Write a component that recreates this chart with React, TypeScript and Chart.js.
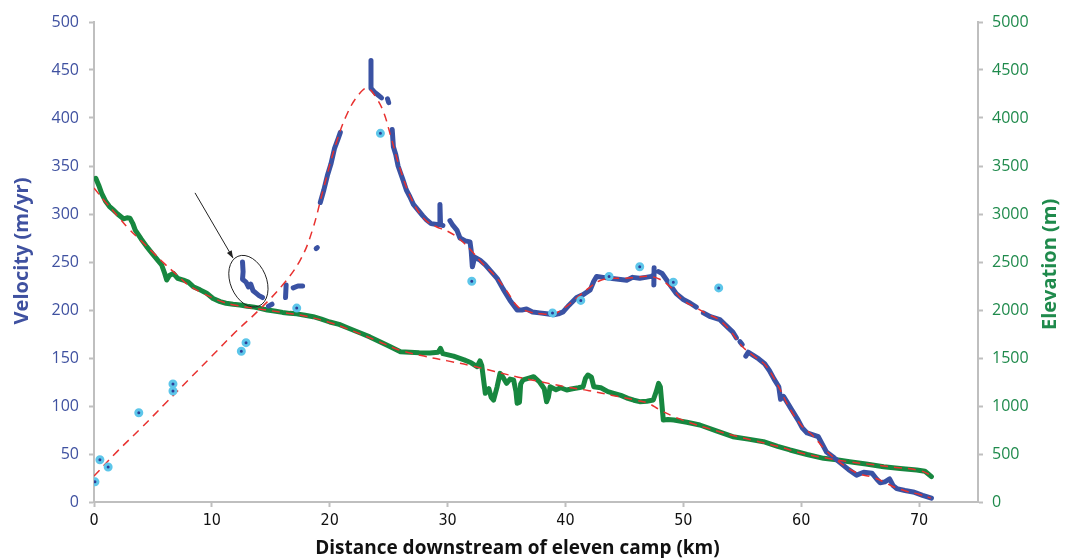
import React, { useEffect, useRef } from "react";
import { Chart, registerables } from "chart.js";

Chart.register(...registerables);

// ---- Data ----
// Velocity observations (blue line); null breaks the line into segments
const velocityKm = [
  12.6, 12.65, 12.6, 12.9, 13.1, 13.3, 13.5, 13.8, 14.0, 14.3, 14.4,
  14.8, 15.1, 15.2,
  16.25, 16.3, 16.35,
  16.9, 17.3, 17.7, 17.8,
  18.85, 18.95, 19.0,
  19.2, 19.5, 19.8, 20.1, 20.4, 20.7, 20.9, 21.0,
  23.5, 23.5, 23.8, 24.1, 24.4, 24.5,
  24.9, 25.0, 25.05,
  25.3, 25.4, 25.6, 25.8, 26.0, 26.2, 26.5, 26.8, 27.1, 27.5, 27.9, 28.2, 28.6, 29.1, 29.3, 29.35, 29.4, 29.6, 29.7,
  30.2, 30.4, 30.8, 31.05, 31.5, 31.9, 32.0, 32.1, 32.3, 32.75, 33.2, 33.7, 34.2, 34.7, 35.3, 35.9, 36.3, 36.7, 37.2, 37.8, 38.4, 39.0, 39.4, 39.8, 40.3, 40.95, 41.5, 42.1, 42.4, 42.65, 43.2, 43.8, 44.5, 45.2, 45.7, 46.3, 46.8, 47.3, 47.4, 47.42,
  47.5, 47.52, 47.6,
  47.9, 48.2, 48.6, 49.0, 49.4, 50.0, 50.6, 51.1, 51.2,
  51.7, 52.3, 53.1, 53.6, 54.2, 54.5, 54.6,
  54.8, 55.0, 55.1,
  55.3, 55.5, 55.9, 56.4, 56.9, 57.3, 57.7, 58.1, 58.25, 58.5, 58.8, 59.2, 59.75, 60.1, 60.5, 61.0, 61.45, 61.8, 62.15, 62.8, 63.4, 64.0, 64.7, 65.3, 66.0, 66.4, 66.7, 67.1, 67.5, 67.8, 68.1, 68.8, 69.5, 70.3, 71.05,
];
const velocityValues: (number | null)[] = [
  250, 240, 232, 229, 224, 227, 220, 217, 215, 213, null,
  204, 206, null,
  213, 226, null,
  223, 225, 225, null,
  264, 265, null,
  312, 325, 340, 352, 368, 378, 385, null,
  460, 431, 427, 424, 421, null,
  420, 416, null,
  388, 370, 362, 350, 343, 336, 325, 318, 310, 304, 298, 294, 290, 289, 289, 310, 289, 288, null,
  293, 289, 283, 275, 272, 271, 262, 245, 255, 252, 247, 240, 233, 222, 210, 200, 200, 201, 198, 197, 196, 195, 196, 198, 205, 213, 216, 221, 230, 235, 234, 233, 232, 231, 234, 233, 234, 235, 236, null,
  226, 244, null,
  240, 238, 231, 224, 217, 211, 207, 203, null,
  197, 193, 190, 184, 177, 171, null,
  167, 164, null,
  152, 156, 153, 149, 144, 137, 128, 120, 107, 110, 104, 96, 85, 77, 72, 70, 68, 60, 52, 46, 40, 34, 28, 31, 30, 24, 20, 21, 24, 17, 14, 12, 10.5, 7, 4,
];

// Fitted velocity curve (red dashed)
const velocityFitKm = [0, 2, 4, 6, 8, 10, 12, 14, 16, 17.5, 18.5, 19.5, 20.5, 21.5, 22.5, 23.2, 24, 24.6, 25.2, 26, 27, 28, 29, 30, 31, 32, 33, 34, 35, 36, 37, 38, 39, 40, 41, 42, 43, 44, 45, 46, 47, 48, 49, 50, 51, 52, 53, 54, 55, 56, 57, 58, 59, 60, 61, 62, 63, 64, 65, 66, 67, 68, 69, 70, 71];
const velocityFitValues = [27, 53, 77, 102, 127, 152, 177, 200, 226, 252, 282, 328, 372, 405, 425, 431, 420, 405, 380, 346, 314, 295, 287, 282, 274, 262, 248, 236, 220, 203, 198, 196, 196, 203, 213, 223, 231, 233, 233, 234, 235, 232, 223, 210, 203, 196, 190, 178, 162, 152, 142, 122, 98, 80, 69, 55, 44, 35, 29, 26, 21, 15, 11, 8, 4];

// Elevation profile (green line)
const elevationKm = [
  0.15, 0.4, 0.65, 1.0, 1.3, 1.64, 2.0, 2.5, 2.8, 3.05, 3.3, 3.5, 4.0, 4.47, 5.0, 5.4, 5.74, 6.0, 6.17, 6.4, 6.73, 7.1, 7.58, 8.0, 8.42, 9.0, 9.56, 10.1, 10.7, 11.2, 11.8, 12.4, 13.0, 13.6, 14.1, 14.7, 15.3, 16.0, 16.6, 17.2, 17.9, 18.6, 19.3, 20.0, 20.8, 21.6, 22.6, 23.4, 24.3, 25.1, 26.0, 26.8, 27.6, 28.5, 29.2, 29.4, 29.6, 30.5, 31.4, 32.0, 32.5, 32.75, 32.9, 33.2, 33.5, 33.7, 33.9, 34.2, 34.45, 34.7, 35.0, 35.3, 35.6, 35.8, 35.9, 36.1, 36.2, 36.4, 36.9, 37.3, 37.8, 38.2, 38.4, 38.55, 38.7, 39.2, 39.6, 40.1, 40.6, 41.1, 41.5, 41.7, 41.9, 42.2, 42.4, 43.0, 43.6, 44.1, 44.7, 45.3, 45.8, 46.3, 46.9, 47.45, 47.7, 47.9, 48.05, 48.3, 48.7, 49.2, 50.3, 51.4, 52.8, 54.2, 55.5, 56.8, 58.0, 59.05, 60.5, 61.9, 63.0, 64.1, 65.5, 67.0, 68.4, 69.8, 70.5, 71.05,
];
const elevationValues = [
  3372, 3300, 3215, 3130, 3080, 3042, 3000, 2950, 2960, 2955, 2900, 2833, 2740, 2660, 2580, 2520, 2469, 2380, 2312, 2360, 2382, 2330, 2312, 2290, 2243, 2210, 2174, 2120, 2087, 2070, 2060, 2052, 2040, 2030, 2017, 2000, 1990, 1975, 1965, 1960, 1945, 1930, 1905, 1875, 1850, 1810, 1760, 1720, 1667, 1620, 1566, 1560, 1555, 1552, 1560, 1600, 1545, 1520, 1480, 1450, 1410, 1470, 1420, 1132, 1180, 1090, 1062, 1200, 1340, 1300, 1236, 1280, 1271, 1150, 1028, 1040, 1230, 1271, 1290, 1305, 1250, 1180, 1045, 1090, 1201, 1170, 1190, 1167, 1180, 1190, 1201, 1290, 1323, 1300, 1201, 1190, 1150, 1132, 1110, 1080, 1060, 1045, 1050, 1062, 1150, 1236, 1200, 854, 860, 854, 830, 802, 740, 680, 655, 628, 580, 542, 495, 455, 440, 420, 395, 368, 350, 333, 320, 264,
];

// Fitted elevation curve (red dashed)
const elevationFitKm = [0, 1, 2, 3, 4, 5, 6, 7, 8, 9, 10, 11, 12, 14, 16, 18, 20, 22, 24, 26, 28, 30, 32, 34, 36, 38, 40, 42, 44, 46, 47, 48, 49, 50, 52, 54, 56, 58, 60, 62, 64, 66, 68, 70, 71];
const elevationFitValues = [3270, 3120, 2980, 2840, 2720, 2600, 2480, 2370, 2260, 2190, 2130, 2080, 2050, 2010, 1975, 1935, 1870, 1780, 1680, 1580, 1520, 1470, 1420, 1360, 1300, 1250, 1200, 1160, 1110, 1060, 1030, 960, 900, 850, 770, 700, 640, 580, 510, 460, 420, 390, 360, 330, 280];

// Point velocity measurements (cyan dots)
const pointKm = [0.08, 0.5, 1.2, 3.8, 6.7, 6.7, 12.5, 12.9, 17.2, 24.3, 32.05, 38.9, 41.3, 43.7, 46.3, 49.15, 53.0];
const pointVelocity = [21, 44, 36.5, 93, 123, 115.6, 157, 166, 202, 384, 230, 197, 210, 235, 245, 229, 223];

// Axis ticks and titles
const xTickStep = 10;
const velocityTickStep = 50;
const elevationTickStep = 500;
const xTitle = "Distance downstream of eleven camp (km)";
const velocityTitle = "Velocity (m/yr)";
const elevationTitle = "Elevation (m)";

// Annotation (ellipse around the highlighted segment, arrow pointing to it) in data units
const ellipseCenter = { km: 13.1, v: 230 };
const arrowFrom = { km: 8.57, v: 322 };
const arrowTo = { km: 11.8, v: 254 };

const BLUE = "#3A52A3";
const GREEN = "#17873F";
const RED = "#E8312F";
const BLUE_TEXT = "#3F51A0";
const GREEN_TEXT = "#1F8A4C";
const AXIS_GREY = "#BFBFBF";
const FONT = "'Open Sans', 'Noto Sans', sans-serif";
const NARROW = "'Liberation Sans Narrow', 'DejaVu Sans Condensed', 'Roboto Condensed', 'Open Sans', sans-serif";

const zip = (xs: number[], ys: (number | null)[]) => xs.map((x, i) => ({ x, y: ys[i] }));

const annotationPlugin = {
  id: "annotations",
  afterDatasetsDraw(chart: any) {
    const { ctx, scales } = chart;
    const x = scales.x;
    const y = scales.y;
    ctx.save();
    const cx = x.getPixelForValue(ellipseCenter.km);
    const cy = y.getPixelForValue(ellipseCenter.v);
    ctx.strokeStyle = "#222";
    ctx.lineWidth = 1;
    ctx.beginPath();
    ctx.ellipse(cx, cy, 18, 27, -0.4, 0, Math.PI * 2);
    ctx.stroke();
    const x1 = x.getPixelForValue(arrowFrom.km);
    const y1 = y.getPixelForValue(arrowFrom.v);
    const x2 = x.getPixelForValue(arrowTo.km);
    const y2 = y.getPixelForValue(arrowTo.v);
    ctx.beginPath();
    ctx.moveTo(x1, y1);
    ctx.lineTo(x2, y2);
    ctx.stroke();
    const ang = Math.atan2(y2 - y1, x2 - x1);
    const len = 8;
    ctx.fillStyle = "#222";
    ctx.beginPath();
    ctx.moveTo(x2, y2);
    ctx.lineTo(x2 - len * Math.cos(ang - 0.35), y2 - len * Math.sin(ang - 0.35));
    ctx.lineTo(x2 - len * Math.cos(ang + 0.35), y2 - len * Math.sin(ang + 0.35));
    ctx.closePath();
    ctx.fill();
    ctx.restore();
  },
};

// Axis titles (Excel-style: both vertical titles read bottom-to-top)
const titlePlugin = {
  id: "axisTitles",
  afterDraw(chart: any) {
    const { ctx, chartArea } = chart;
    ctx.save();
    ctx.textAlign = "center";
    ctx.textBaseline = "middle";
    ctx.font = `bold 20px ${FONT}`;
    ctx.fillStyle = BLUE_TEXT;
    ctx.translate(22, chartArea.top + (chartArea.bottom - chartArea.top) * 0.477);
    ctx.rotate(-Math.PI / 2);
    ctx.fillText(velocityTitle, 0, 0);
    ctx.restore();

    ctx.save();
    ctx.textAlign = "center";
    ctx.textBaseline = "middle";
    ctx.font = `bold 20px ${FONT}`;
    ctx.fillStyle = GREEN_TEXT;
    ctx.translate(chart.width - 15, chartArea.top + (chartArea.bottom - chartArea.top) * 0.505);
    ctx.rotate(-Math.PI / 2);
    ctx.fillText(elevationTitle, 0, 0);
    ctx.restore();

    ctx.save();
    ctx.textAlign = "center";
    ctx.textBaseline = "middle";
    ctx.font = `bold 19px ${FONT}`;
    ctx.fillStyle = "#111";
    ctx.fillText(xTitle, chartArea.left + (chartArea.right - chartArea.left) * 0.479, chart.height - 9);
    ctx.restore();
  },
};

export default function App() {
  const canvasRef = useRef<HTMLCanvasElement | null>(null);

  useEffect(() => {
    document.body.style.margin = "0";
    const canvas = canvasRef.current;
    if (!canvas) return;
    const chart = new Chart(canvas, {
      type: "line",
      data: {
        datasets: [
          {
            label: "Point velocities",
            data: zip(pointKm, pointVelocity),
            yAxisID: "y",
            showLine: false,
            pointRadius: 3,
            pointBorderWidth: 3,
            pointBackgroundColor: "#2E3F96",
            pointBorderColor: "#5DC6EA",
            order: 0,
          },
          {
            label: "Velocity fit",
            data: zip(velocityFitKm, velocityFitValues),
            yAxisID: "y",
            borderColor: RED,
            borderWidth: 1.5,
            borderDash: [8, 6],
            pointRadius: 0,
            tension: 0.4,
            order: 1,
          },
          {
            label: "Elevation fit",
            data: zip(elevationFitKm, elevationFitValues),
            yAxisID: "y2",
            borderColor: RED,
            borderWidth: 1.5,
            borderDash: [8, 6],
            pointRadius: 0,
            tension: 0.4,
            order: 2,
          },
          {
            label: "Velocity",
            data: zip(velocityKm, velocityValues),
            yAxisID: "y",
            borderColor: BLUE,
            borderWidth: 5,
            pointRadius: 0,
            spanGaps: false,
            borderCapStyle: "round",
            borderJoinStyle: "round",
            order: 3,
          },
          {
            label: "Elevation",
            data: zip(elevationKm, elevationValues),
            yAxisID: "y2",
            borderColor: GREEN,
            borderWidth: 5,
            pointRadius: 0,
            borderCapStyle: "round",
            borderJoinStyle: "round",
            order: 4,
          },
        ] as any,
      },
      options: {
        animation: false,
        responsive: false,
        maintainAspectRatio: false,
        layout: { padding: { top: 22, left: 0, right: 0, bottom: 0 } },
        plugins: {
          legend: { display: false },
          tooltip: { enabled: false },
        },
        scales: {
          x: {
            type: "linear",
            min: 0,
            max: 75,
            ticks: {
              stepSize: xTickStep,
              includeBounds: false,
              color: "#111",
              padding: 4,
              font: { family: NARROW, size: 16 },
              callback: (v: any) => String(v),
            },
            grid: { drawOnChartArea: false, drawTicks: true, tickLength: 5, tickColor: AXIS_GREY, tickWidth: 2 },
            border: { display: true, color: AXIS_GREY, width: 2 },
            title: { display: false },
            afterFit(scale: any) {
              scale.height = 56;
            },
          },
          y: {
            type: "linear",
            position: "left",
            min: 0,
            max: 500,
            ticks: {
              stepSize: velocityTickStep,
              color: BLUE_TEXT,
              padding: 10,
              font: { family: FONT, size: 16 },
              callback: (v: any) => String(v),
            },
            grid: { drawOnChartArea: false, drawTicks: true, tickLength: 5, tickColor: AXIS_GREY, tickWidth: 2 },
            border: { display: true, color: AXIS_GREY, width: 2 },
            title: { display: false },
            afterFit(scale: any) {
              scale.width = 94;
            },
          },
          y2: {
            type: "linear",
            position: "right",
            min: 0,
            max: 5000,
            ticks: {
              stepSize: elevationTickStep,
              color: GREEN_TEXT,
              padding: 9,
              font: { family: FONT, size: 16 },
              callback: (v: any) => String(v),
            },
            grid: { drawOnChartArea: false, drawTicks: true, tickLength: 5, tickColor: AXIS_GREY, tickWidth: 2 },
            border: { display: true, color: AXIS_GREY, width: 2 },
            title: { display: false },
            afterFit(scale: any) {
              scale.width = 87;
            },
          },
        },
      } as any,
      plugins: [annotationPlugin, titlePlugin],
    });
    return () => chart.destroy();
  }, []);

  return (
    <div style={{ width: 1065, height: 558, background: "#fff" }}>
      <canvas ref={canvasRef} width={1065} height={558} style={{ display: "block" }} />
    </div>
  );
}
